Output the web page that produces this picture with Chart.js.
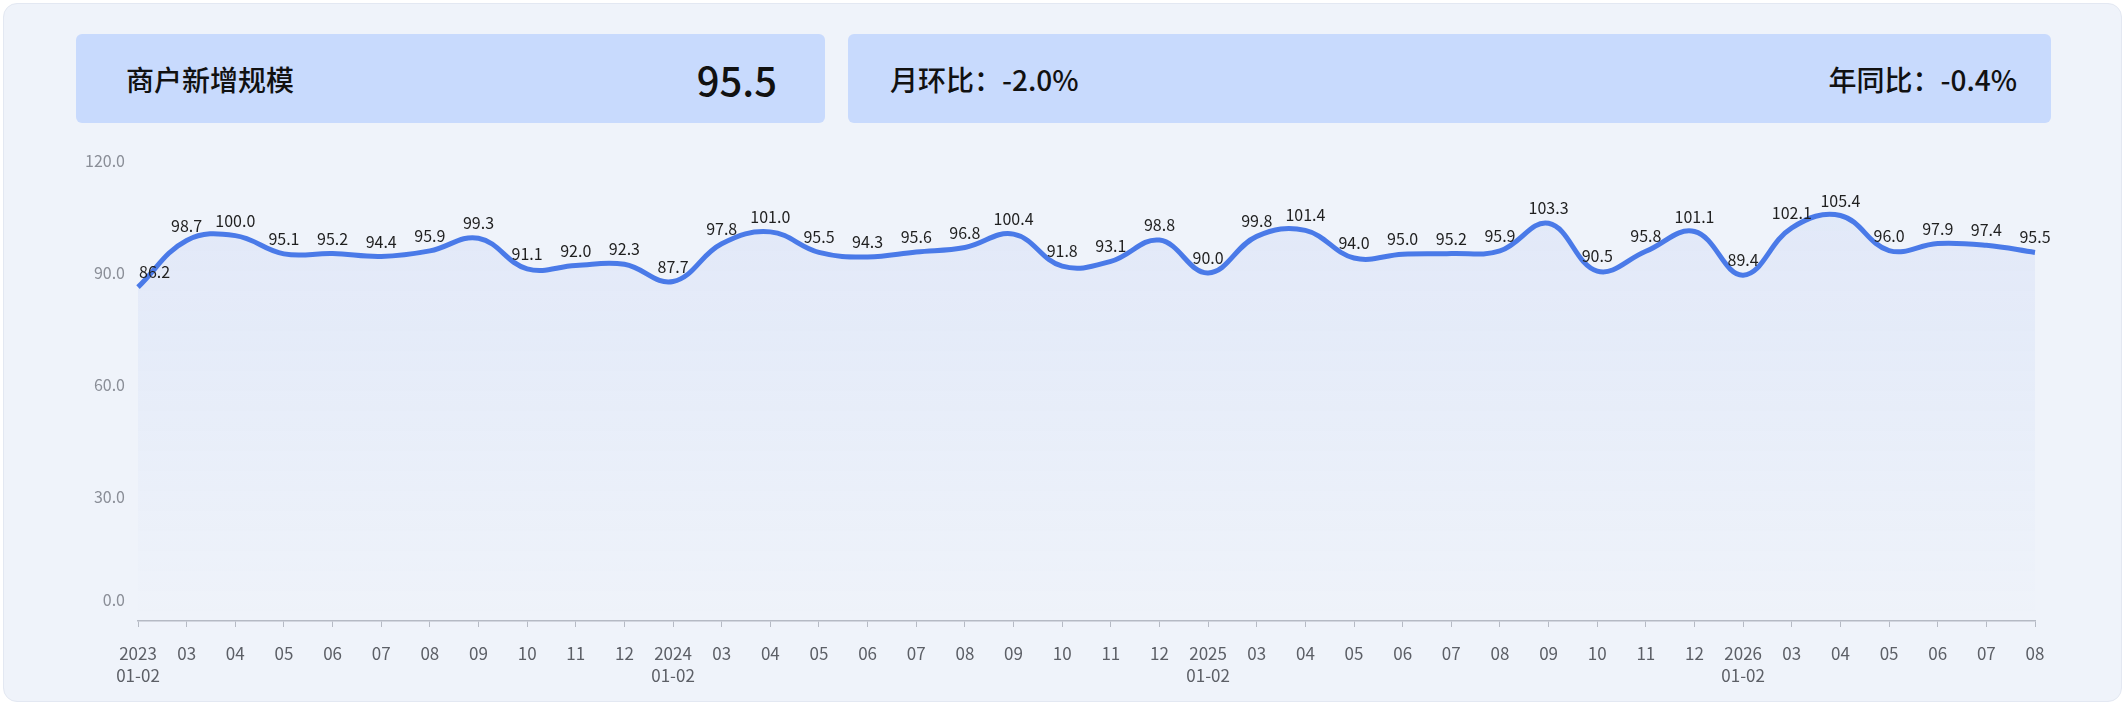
<!DOCTYPE html>
<html lang="zh">
  <head>
    <meta charset="UTF-8" />
    <title>商户新增规模</title>
    <script src="https://cdn.jsdelivr.net/npm/chart.js"></script>
    <style>
      html, body { margin: 0; padding: 0; background: #ffffff; }
      body { width: 2127px; height: 707px; position: relative; overflow: hidden;
             font-family: "Noto Sans CJK SC", "Noto Sans", sans-serif; }
      .panel { position: absolute; left: 3px; top: 3px; width: 2119px; height: 699px;
               background: #eff3fa; border: 1px solid #e3e8f2; border-radius: 14px; box-sizing: border-box; }
      .card { position: absolute; top: 34px; height: 89px; background: #c8dafd; border-radius: 6px;
              display: flex; align-items: center; justify-content: space-between; box-sizing: border-box;
              color: #111; font-weight: 500; }
      #card1 { left: 76px; width: 749px; padding: 0 48px 0 50px; }
      #card2 { left: 848px; width: 1203px; padding: 0 34px 0 42px; }
      .label { font-size: 28px; }
      .big { font-size: 40px; }
      .chartBox { position: absolute; left: 0; top: 130px; width: 2127px; height: 577px; }
    </style>
  </head>
  <body>
    <div class="panel"></div>
    <div class="card" id="card1">
      <span class="label">商户新增规模</span>
      <span class="big" id="latest">95.5</span>
    </div>
    <div class="card" id="card2">
      <span class="label">月环比：-2.0%</span>
      <span class="label">年同比：-0.4%</span>
    </div>
    <div class="chartBox"><canvas id="trend"></canvas></div>

    <script>
      // month labels (first of each year carries the year + merged Jan-Feb)
      const months = [
        ['2023', '01-02'], '03', '04', '05', '06', '07', '08', '09', '10', '11', '12',
        ['2024', '01-02'], '03', '04', '05', '06', '07', '08', '09', '10', '11', '12',
        ['2025', '01-02'], '03', '04', '05', '06', '07', '08', '09', '10', '11', '12',
        ['2026', '01-02'], '03', '04', '05', '06', '07', '08'
      ];
      const values2023 = [86.2, 98.7, 100.0, 95.1, 95.2, 94.4, 95.9, 99.3, 91.1, 92.0, 92.3];
      const values2024 = [87.7, 97.8, 101.0, 95.5, 94.3, 95.6, 96.8, 100.4, 91.8, 93.1, 98.8];
      const values2025 = [90.0, 99.8, 101.4, 94.0, 95.0, 95.2, 95.9, 103.3, 90.5, 95.8, 101.1];
      const values2026 = [89.4, 102.1, 105.4, 96.0, 97.9, 97.4, 95.5];
      const yTicks = [0, 30, 60, 90, 120];

      const values = [...values2023, ...values2024, ...values2025, ...values2026];
      const FONT = '"Noto Sans CJK SC", "Noto Sans", sans-serif';

      // value labels above each point
      const valueLabels = {
        id: 'valueLabels',
        afterDatasetsDraw(chart) {
          const ctx = chart.ctx;
          const meta = chart.getDatasetMeta(0);
          ctx.save();
          ctx.font = '16px ' + FONT;
          ctx.fillStyle = '#1f1f1f';
          ctx.textAlign = 'center';
          ctx.textBaseline = 'middle';
          meta.data.forEach((pt, i) => {
            const txt = values[i].toFixed(1);
            const w = ctx.measureText(txt).width;
            const x = Math.max(pt.x, chart.chartArea.left + w / 2 + 1);
            ctx.fillText(txt, x, pt.y - 15);
          });
          ctx.restore();
        }
      };

      // y labels, the bottom one lifted off the axis line
      const yLabels = {
        id: 'yLabels',
        afterDraw(chart) {
          const ctx = chart.ctx;
          const y = chart.scales.y;
          ctx.save();
          ctx.font = '16px ' + FONT;
          ctx.fillStyle = '#8a8e97';
          ctx.textAlign = 'right';
          ctx.textBaseline = 'middle';
          yTicks.forEach((v, i) => {
            const py = y.getPixelForValue(v) - (i === 0 ? 9 : 0);
            ctx.fillText(v.toFixed(1), chart.chartArea.left - 13, py);
          });
          ctx.restore();
        }
      };

      const ctx = document.getElementById('trend').getContext('2d');
      new Chart(ctx, {
        type: 'line',
        data: {
          labels: months,
          datasets: [{
            data: values,
            borderColor: '#4a7ae8',
            borderWidth: 5,
            tension: 0.4,
            pointRadius: 0,
            fill: 'start',
            backgroundColor: (c) => {
              const area = c.chart.chartArea;
              if (!area) return 'rgba(74,122,232,0.07)';
              const g = c.chart.ctx.createLinearGradient(0, area.top, 0, area.bottom);
              g.addColorStop(0, 'rgba(74,122,232,0.09)');
              g.addColorStop(1, 'rgba(74,122,232,0.0)');
              return g;
            }
          }]
        },
        options: {
          responsive: true,
          maintainAspectRatio: false,
          animation: false,
          layout: { padding: { top: 31, right: 92, left: 0, bottom: 0 } },
          plugins: { legend: { display: false }, tooltip: { enabled: false } },
          scales: {
            x: {
              offset: false,
              grid: { display: true, drawOnChartArea: false, drawTicks: true, tickLength: 6, color: '#b5bac4' },
              border: { display: true, color: '#b5bac4', width: 1.5 },
              ticks: {
                autoSkip: false, maxRotation: 0, padding: 15, color: '#5c5f66',
                font: { size: 17, family: FONT, lineHeight: 1.3 }
              },
              afterFit: (s) => { s.height = 86; }
            },
            y: {
              min: -3.3,
              max: 120,
              afterBuildTicks: (s) => { s.ticks = yTicks.map(v => ({ value: v })); },
              grid: { display: false, drawTicks: false },
              border: { display: false },
              ticks: { display: false },
              afterFit: (s) => { s.width = 138; }
            }
          }
        },
        plugins: [valueLabels, yLabels]
      });
    </script>
  </body>
</html>
